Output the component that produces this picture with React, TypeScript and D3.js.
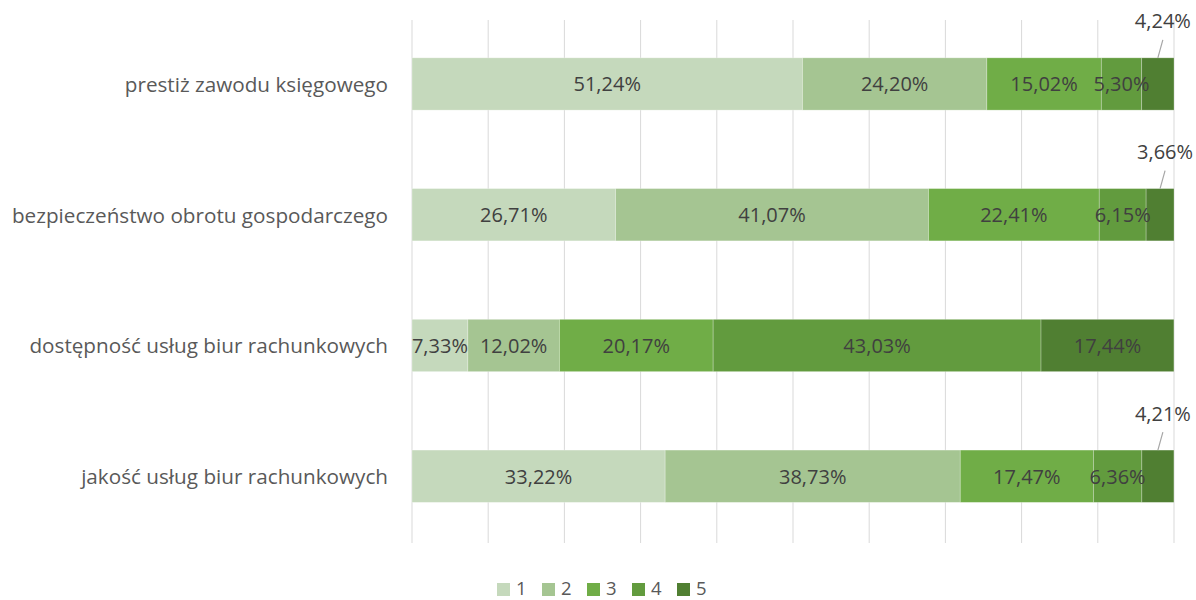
import React from "react";
import * as d3 from "d3";

const categories = [
  "prestiż zawodu księgowego",
  "bezpieczeństwo obrotu gospodarczego",
  "dostępność usług biur rachunkowych",
  "jakość usług biur rachunkowych",
];
const seriesNames = ["1", "2", "3", "4", "5"];
const s1 = [51.24, 26.71, 7.33, 33.22];
const s2 = [24.2, 41.07, 12.02, 38.73];
const s3 = [15.02, 22.41, 20.17, 17.47];
const s4 = [5.3, 6.15, 43.03, 6.36];
const s5 = [4.24, 3.66, 17.44, 4.21];
const seriesValues = [s1, s2, s3, s4, s5];
const xTicks = [0, 10, 20, 30, 40, 50, 60, 70, 80, 90, 100];

const colors = ["#c5d9bc", "#a5c592", "#70ad47", "#629b3e", "#507f32"];
const FONT = "'Open Sans', Lato, sans-serif";

export default function App() {
  const W = 1196;
  const H = 600;
  const x = d3.scaleLinear().domain([0, 100]).range([412, 1174]);
  const y = d3.scaleBand().domain(categories).range([18.6, 541.6]).paddingInner(0.6).paddingOuter(0.3);
  const rows = categories.map((c, i) => {
    const obj: any = { cat: c };
    seriesNames.forEach((s, j) => (obj[s] = seriesValues[j][i]));
    return obj;
  });
  const stack = d3.stack<any>().keys(seriesNames)(rows);
  const fmt = (v: number) => v.toFixed(2).replace(".", ",") + "%";
  const bh = y.bandwidth();

  return (
    <svg width={W} height={H} style={{ position: "absolute", left: 0, top: 0 }} fontFamily={FONT}>
      <rect width={W} height={H} fill="#fff" />
      {xTicks.map((t) => (
        <line key={t} x1={x(t)} x2={x(t)} y1={20} y2={543} stroke="#d9d9d9" strokeWidth={1} />
      ))}
      {stack.map((layer, j) =>
        layer.map((d, i) => (
          <rect
            key={`${j}-${i}`}
            x={x(d[0])}
            y={y(categories[i])!}
            width={x(d[1]) - x(d[0])}
            height={bh}
            fill={colors[j]}
            stroke="#ffffff"
            strokeOpacity={0.35}
            strokeWidth={0.75}
          />
        ))
      )}
      {stack.map((layer, j) =>
        layer.map((d, i) => {
          const v = seriesValues[j][i];
          const cx = (x(d[0]) + x(d[1])) / 2;
          const top = y(categories[i])!;
          if (v < 5) {
            return (
              <g key={`l${j}-${i}`}>
                <line x1={cx} y1={top} x2={cx + 5} y2={top - 18} stroke="#a6a6a6" strokeWidth={1.2} />
                <text x={cx + 5} y={top - 37} textAnchor="middle" dominantBaseline="central" fontSize={20} fill="#404040">
                  {fmt(v)}
                </text>
              </g>
            );
          }
          return (
            <text key={`l${j}-${i}`} x={cx} y={top + bh / 2} textAnchor="middle" dominantBaseline="central" fontSize={20} fill="#404040">
              {fmt(v)}
            </text>
          );
        })
      )}
      {categories.map((c) => (
        <text key={c} x={388} y={y(c)! + bh / 2} textAnchor="end" dominantBaseline="central" fontSize={20.7} fill="#595959">
          {c}
        </text>
      ))}
      {seriesNames.map((s, j) => (
        <g key={s} transform={`translate(${497 + j * 45},0)`}>
          <rect x={0} y={583} width={13} height={13} fill={colors[j]} />
          <text x={19} y={587} dominantBaseline="central" fontSize={18.5} fill="#595959">
            {s}
          </text>
        </g>
      ))}
    </svg>
  );
}
